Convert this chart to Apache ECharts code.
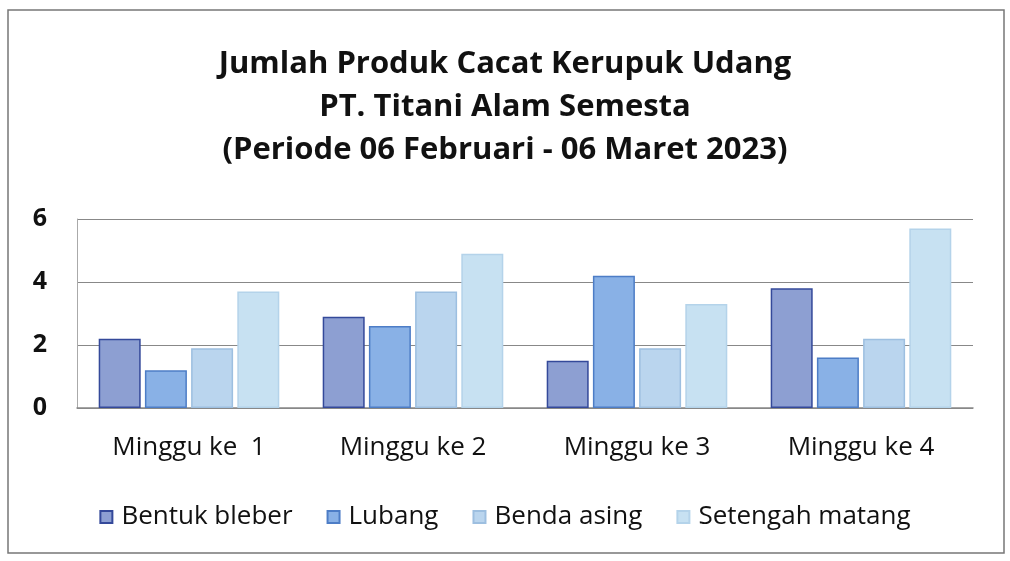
<!DOCTYPE html>
<html>
<head>
<meta charset="utf-8">
<script src="https://cdn.jsdelivr.net/npm/echarts@6/dist/echarts.min.js"></script>
<style>
  html, body {margin: 0; padding: 0; background: #fff;}
  #chart {width: 1010px; height: 561px;}
</style>
</head>
<body>
<div id="chart"></div>
<script>
const categories = ['Minggu ke  1', 'Minggu ke 2', 'Minggu ke 3', 'Minggu ke 4'];
const bentukBleber = [2.2, 2.9, 1.5, 3.8];
const lubang = [1.2, 2.6, 4.2, 1.6];
const bendaAsing = [1.9, 3.7, 1.9, 2.2];
const setengahMatang = [3.7, 4.9, 3.3, 5.7];
const titleLines = [
    'Jumlah Produk Cacat Kerupuk Udang',
    'PT. Titani Alam Semesta',
    '(Periode 06 Februari - 06 Maret 2023)'
];

const font = '"Open Sans", "Noto Sans", sans-serif';
const myChart = echarts.init(document.getElementById('chart'));

const bar = (name, data, fill, border) => ({
    name,
    type: 'bar',
    data,
    barWidth: 42,
    barGap: '10%',
    itemStyle: {color: fill, borderColor: border, borderWidth: 1.5}
});

myChart.setOption({
    animation: false,
    textStyle: {fontFamily: font},
    title: {
        text: titleLines.join('\n'),
        left: 'center',
        top: 38,
        textStyle: {
            fontFamily: font,
            fontWeight: 'bold',
            fontSize: 31,
            lineHeight: 43,
            color: '#111'
        }
    },
    graphic: [{
        type: 'rect',
        shape: {x: 8, y: 10, width: 996, height: 543},
        style: {fill: 'none', stroke: '#777', lineWidth: 1.5},
        silent: true
    }],
    legend: {
        bottom: 26,
        left: 'center',
        itemWidth: 12,
        itemHeight: 12,
        itemGap: 34,
        icon: 'rect',
        textStyle: {fontFamily: font, fontSize: 26, color: '#111', padding: [0, 0, 0, 4]}
    },
    grid: {left: 77, right: 37, top: 219, bottom: 153},
    xAxis: {
        type: 'category',
        data: categories,
        axisTick: {show: false},
        axisLine: {lineStyle: {color: '#888', width: 1.5}},
        axisLabel: {fontSize: 26, color: '#111', margin: 27}
    },
    yAxis: {
        type: 'value',
        min: 0,
        max: 6,
        interval: 2,
        axisLine: {show: true, lineStyle: {color: '#aaa'}},
        axisTick: {show: false},
        axisLabel: {fontSize: 25, color: '#111', margin: 30, fontWeight: 'bold'},
        splitLine: {lineStyle: {color: '#888', width: 1.2}}
    },
    series: [
        bar('Bentuk bleber', bentukBleber, '#8d9fd2', '#34499a'),
        bar('Lubang', lubang, '#89b1e6', '#4d7dc6'),
        bar('Benda asing', bendaAsing, '#bad5ee', '#9dbfe0'),
        bar('Setengah matang', setengahMatang, '#c7e1f2', '#b4d3ea')
    ]
});
</script>
</body>
</html>
